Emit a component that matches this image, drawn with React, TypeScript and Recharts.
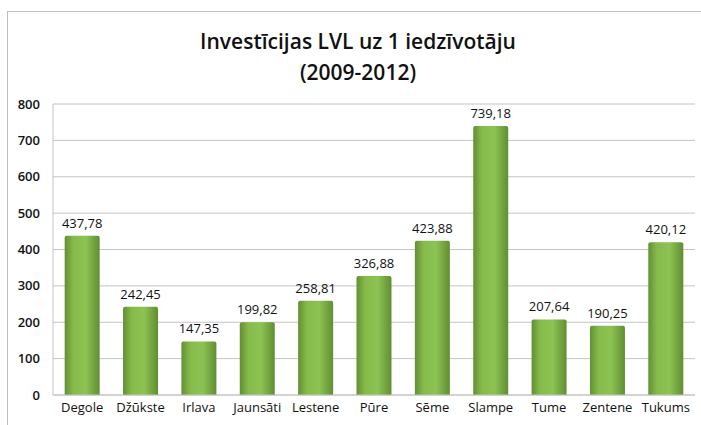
import { BarChart, Bar, XAxis, YAxis, CartesianGrid, LabelList } from 'recharts'

const places = ['Degole', 'Džūkste', 'Irlava', 'Jaunsāti', 'Lestene', 'Pūre', 'Sēme', 'Slampe', 'Tume', 'Zentene', 'Tukums']
const invest = [437.78, 242.45, 147.35, 199.82, 258.81, 326.88, 423.88, 739.18, 207.64, 190.25, 420.12]
const yTicks = [0, 100, 200, 300, 400, 500, 600, 700, 800]

const data = places.map((name, i) => ({ name, value: invest[i] }))

const font = '"Open Sans", sans-serif'

export default function App() {
  return (
    <div style={{ position: 'absolute', left: 0, top: 0, width: 701, height: 425, background: '#fff', fontFamily: font, overflow: 'hidden' }}>
      <div style={{ position: 'absolute', left: 7, top: 11, width: 720, height: 440, border: '1px solid #bdbdbd' }} />
      <div
        style={{
          position: 'absolute',
          left: 0,
          top: 26,
          width: 716,
          textAlign: 'center',
          fontSize: 21,
          fontWeight: 600,
          lineHeight: '31px',
          color: '#111'
        }}
      >
        Investīcijas LVL uz 1 iedzīvotāju
        <br />
        (2009-2012)
      </div>
      <BarChart
        width={701}
        height={425}
        data={data}
        margin={{ top: 104, right: 6, left: 0, bottom: 5 }}
        barCategoryGap="20%"
        style={{ position: 'absolute', left: 0, top: 0 }}
      >
        <defs>
          <linearGradient id="barGreen" x1="0" y1="0" x2="1" y2="0">
            <stop offset="0%" stopColor="#628f33" />
            <stop offset="25%" stopColor="#86bb4b" />
            <stop offset="60%" stopColor="#8dc353" />
            <stop offset="100%" stopColor="#608e32" />
          </linearGradient>
        </defs>
        <CartesianGrid stroke="#c4c4c4" vertical={false} />
        <XAxis
          dataKey="name"
          tickLine={false}
          axisLine={{ stroke: '#c4c4c4' }}
          tick={{ fill: '#111', fontSize: 13, fontWeight: 500, fontFamily: font }}
          interval={0}
          height={25}
        />
        <YAxis
          domain={[0, 800]}
          ticks={yTicks}
          width={53}
          tickLine={false}
          axisLine={{ stroke: '#c4c4c4' }}
          tick={{ fill: '#111', fontSize: 13, fontWeight: 600, fontFamily: font, dx: -5 }}
        />
        <Bar dataKey="value" fill="url(#barGreen)" radius={[2, 2, 0, 0]} isAnimationActive={false}>
          <LabelList
            dataKey="value"
            position="top"
            offset={8}
            formatter={(v: number) => v.toFixed(2).replace('.', ',')}
            style={{ fill: '#111', fontSize: 13, fontFamily: font }}
          />
        </Bar>
      </BarChart>
    </div>
  )
}
